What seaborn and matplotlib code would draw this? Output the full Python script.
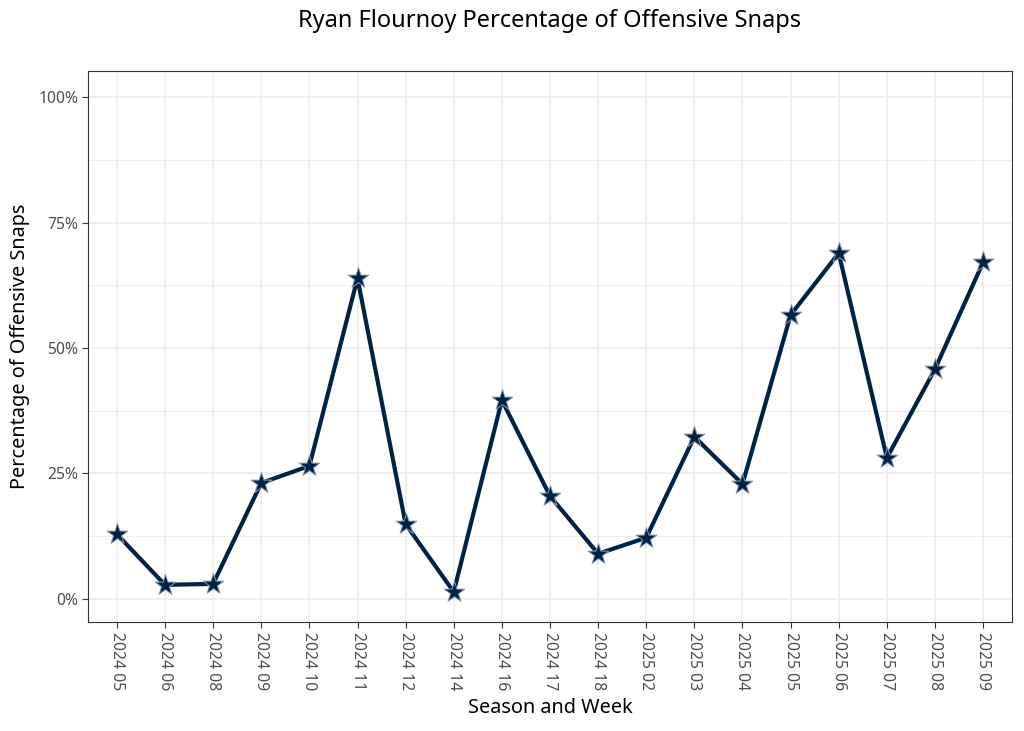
import numpy as np
import pandas as pd
import matplotlib
matplotlib.use('Agg')
import matplotlib.pyplot as plt
import seaborn as sns
from matplotlib.ticker import PercentFormatter, MultipleLocator

# season/week labels and share of offensive snaps
weeks = ['2024 05', '2024 06', '2024 08', '2024 09', '2024 10', '2024 11', '2024 12',
         '2024 14', '2024 16', '2024 17', '2024 18', '2025 02', '2025 03', '2025 04',
         '2025 05', '2025 06', '2025 07', '2025 08', '2025 09']
snap_pct = [0.129, 0.028, 0.030, 0.231, 0.265, 0.639, 0.149,
            0.014, 0.396, 0.205, 0.090, 0.122, 0.323, 0.229,
            0.566, 0.689, 0.281, 0.458, 0.671]

df = pd.DataFrame({'week': weeks, 'pct': snap_pct})
df['pos'] = np.arange(len(df))

sns.set_theme(style='white')
plt.rcParams['font.family'] = ['Noto Sans', 'DejaVu Sans']

navy = '#002244'
silver = '#8a9ab0'

fig = plt.figure(figsize=(10.24, 7.31), dpi=100)
ax = fig.add_axes([88 / 1024, 1 - 622 / 731, (1012 - 88) / 1024, (622 - 71) / 731])

sns.lineplot(data=df, x='pos', y='pct', color=navy, linewidth=3, ax=ax, zorder=3)
sns.scatterplot(data=df, x='pos', y='pct', marker='*', s=250, color=navy,
                edgecolor=silver, linewidth=0.7, ax=ax, zorder=4)

ax.set_xlim(-0.6, len(weeks) - 1 + 0.6)
ax.set_ylim(-0.046, 1.052)
ax.yaxis.set_major_locator(MultipleLocator(0.25))
ax.yaxis.set_minor_locator(MultipleLocator(0.125))
ax.yaxis.set_major_formatter(PercentFormatter(1.0, decimals=0))
ax.set_xticks(df['pos'])
ax.set_xticklabels(weeks, rotation=-90)

ax.grid(True, which='major', color='#ebebeb', linewidth=1.2)
ax.grid(True, which='minor', axis='y', color='#ebebeb', linewidth=0.6)
ax.set_axisbelow(True)
for s in ax.spines.values():
    s.set_color('#333333')
    s.set_linewidth(0.8)

ax.tick_params(axis='both', which='major', length=4, width=0.8, color='#333333',
               labelsize=11.3, labelcolor='#4d4d4d', bottom=True, left=True, pad=3)
ax.tick_params(axis='y', which='minor', length=0)

ax.set_xlabel('Season and Week', fontsize=14.3, color='black', labelpad=6)
ax.set_ylabel('Percentage of Offensive Snaps', fontsize=14.3, color='black', labelpad=6)
fig.text(550 / 1024, 1 - 21 / 731, 'Ryan Flournoy Percentage of Offensive Snaps',
         ha='center', va='center', fontsize=17, color='black')

fig.savefig('out.png', dpi=100)
